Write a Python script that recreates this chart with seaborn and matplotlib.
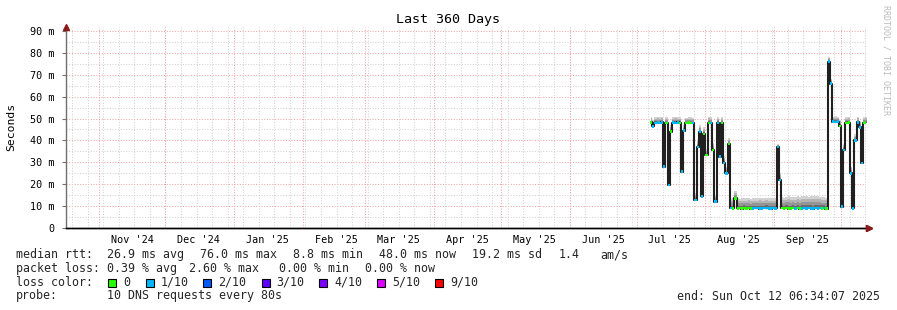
import numpy as np
import pandas as pd
import matplotlib
matplotlib.use("Agg")
import matplotlib.pyplot as plt
import matplotlib.dates as mdates
from matplotlib.patches import Rectangle
import seaborn as sns

# ---------------- data ----------------
title = "Last 360 Days"
period_start = "2024-10-17 06:34:07"
period_end = "2025-10-12 06:34:07"
data_start = "2025-07-07"          # first daily sample

median_ms = [
    48.2, 46.5, 48.0, 48.1, 48.0, 48.2, 28.0, 48.0, 19.6, 44.0,
    48.1, 48.0, 48.2, 48.0, 25.7, 44.4, 48.0, 48.1, 48.0, 48.0,
    12.8, 37.0, 44.0, 14.5, 43.0, 33.3, 48.0, 48.0, 35.6, 12.0,
    48.0, 32.6, 48.0, 29.7, 25.0, 38.4,
    9.2, 9.0, 13.5, 9.0, 9.1, 8.9, 9.2, 9.0, 9.1, 8.9,
    9.0, 9.2, 9.1, 8.9, 9.0, 9.1, 9.2, 9.0, 8.8, 9.1, 9.0,
    37.0, 22.0,
    9.1, 9.0, 9.2, 8.9, 9.0, 9.1, 9.0, 9.2, 8.9, 9.0,
    9.1, 9.0, 9.2, 9.0, 8.9, 9.1, 9.0, 9.2, 9.0, 9.1, 8.9,
    76.0, 66.0, 48.6, 48.5, 48.6, 46.6, 9.7, 35.6, 48.0, 48.1,
    25.0, 9.0, 40.0, 48.2, 46.0, 29.7, 48.0, 48.1,
]
loss_count = [
    0, 1, 1, 1, 1, 1, 1, 0, 1, 0,
    1, 1, 1, 0, 1, 1, 0, 0, 0, 1,
    1, 1, 1, 1, 0, 0, 0, 1, 0, 1,
    1, 1, 0, 1, 1, 0,
    1, 0, 0, 0, 0, 0, 0, 0, 0, 0,
    1, 1, 1, 1, 1, 1, 1, 1, 1, 1, 1,
    1, 1,
    0, 0, 0, 0, 0, 0, 1, 0, 0, 1,
    1, 1, 1, 1, 1, 1, 1, 1, 0, 1, 0,
    1, 1, 1, 1, 1, 0, 1, 1, 0, 0,
    1, 1, 1, 1, 1, 1, 0, 0,
]
smoke_top_ms = [
    50.8, 49.5, 50.6, 50.8, 50.5, 50.7, 31.0, 50.5, 22.0, 47.0,
    50.6, 50.8, 50.5, 50.6, 28.5, 47.0, 50.4, 50.6, 50.5, 50.3,
    16.0, 40.0, 47.0, 18.0, 46.0, 36.0, 50.8, 50.5, 39.0, 15.0,
    50.6, 35.5, 50.5, 33.0, 28.0, 41.0,
    13.2, 13.6, 17.0, 13.5, 13.4, 13.7, 13.6, 13.5, 13.8, 13.4,
    13.6, 13.5, 13.7, 13.9, 13.6, 13.5, 13.8, 13.6, 13.7, 13.5, 13.6,
    38.5, 25.0,
    14.0, 13.9, 14.2, 14.4, 14.0, 14.3, 14.1, 14.5, 14.2, 14.4,
    14.6, 14.5, 14.3, 14.6, 14.4, 14.7, 14.5, 14.3, 14.2, 14.0, 13.8,
    78.0, 68.0, 50.8, 51.0, 50.7, 49.5, 13.0, 38.5, 50.6, 50.8,
    28.0, 12.0, 43.0, 50.8, 49.0, 32.5, 50.5, 50.7,
]

loss_levels = [0, 1, 2, 3, 4, 5, 9]
loss_labels = ["0", "1/10", "2/10", "3/10", "4/10", "5/10", "9/10"]
loss_colors = ["#26ff00", "#00b8ff", "#0059ff", "#5e00ff", "#7e00ff", "#dd00ff", "#ff0000"]
smoke_colors = ["#6e6e6e", "#959595", "#b4b4b4", "#d2d2d2"]

y_ticks = [0, 10, 20, 30, 40, 50, 60, 70, 80, 90]

stats_rtt = ["26.9 ms avg", "76.0 ms max", "8.8 ms min", "48.0 ms now", "19.2 ms sd", "1.4", "am/s"]
stats_loss = ["0.39 % avg", "2.60 % max", "0.00 % min", "0.00 % now"]
probe_text = "10 DNS requests every 80s"
end_text = "end: Sun Oct 12 06:34:07 2025"

# ---------------- figure ----------------
sns.set_theme(style="white")
plt.rcParams["font.family"] = ["DejaVu Sans Mono"]

W, H = 897, 310
fig = plt.figure(figsize=(W / 100, H / 100), dpi=100)
fig.patch.set_facecolor("white")
ax = fig.add_axes([66 / W, (H - 228) / H, 800 / W, (228 - 26.6) / H])
ax.set_facecolor("white")

t0 = pd.Timestamp(period_start)
t1 = pd.Timestamp(period_end)
ax.set_xlim(t0, t1)
ax.set_ylim(0, 92)

# grid
red = "#f2a4a4"
grey = "#d2d2d2"
dots = (0, (1.0, 1.6))
for v in np.arange(5, 91, 10):
    ax.axhline(v, color=grey, lw=0.75, ls=dots, zorder=0)
for v in y_ticks[1:]:
    ax.axhline(v, color=red, lw=0.75, ls=dots, zorder=0)
for v in pd.date_range(t0.normalize(), t1, freq="W-SUN"):
    if t0 < v < t1:
        ax.axvline(v, color=grey, lw=0.75, ls=dots, zorder=0)
for v in pd.date_range(t0.normalize(), t1, freq="MS"):
    if t0 < v < t1:
        ax.axvline(v, color=red, lw=0.75, ls=dots, zorder=0)

# data
days = pd.date_range(data_start, periods=len(median_ms), freq="D") + pd.Timedelta(hours=12)
med = np.array(median_ms)
top = np.array(smoke_top_ms)
df = pd.DataFrame({"time": days, "median": med, "loss": loss_count})

for k, c in enumerate(smoke_colors):
    lo = med + (top - med) * k / len(smoke_colors)
    hi = med + (top - med) * (k + 1) / len(smoke_colors)
    ax.fill_between(days, lo, hi, step="mid", color=c, lw=0, zorder=2)

sns.lineplot(data=df, x="time", y="median", drawstyle="steps-mid", color="#202020",
             lw=1.5, ax=ax, zorder=3, legend=False)

cmap = dict(zip(loss_levels, loss_colors))
band = 1.2
ax.bar(days, [band] * len(med), bottom=med - band / 2, width=1.0,
       color=[cmap[l] for l in loss_count], lw=0, zorder=4)

# axes styling
for s in ["top", "right"]:
    ax.spines[s].set_visible(False)
ax.spines["left"].set_color("#707070")
ax.spines["left"].set_linewidth(1.0)
ax.spines["bottom"].set_color("#000000")
ax.spines["bottom"].set_linewidth(1.0)
ax.spines["left"].set_bounds(0, 92.5)

ax.set_yticks(y_ticks)
ax.set_yticklabels(["0" if v == 0 else f"{v} m" for v in y_ticks])
ax.xaxis.set_major_locator(mdates.MonthLocator(bymonthday=16))
ax.xaxis.set_major_formatter(mdates.DateFormatter("%b '%y"))
ax.tick_params(axis="y", length=3, width=0.8, color="#707070", pad=5, labelsize=7.3,
               labelcolor="black", left=True)
ax.tick_params(axis="x", length=0, pad=5, labelsize=7.3, labelcolor="black", bottom=True)
ax.set_xlabel("")
ax.set_ylabel("")

# arrows
ax.plot([0], [1.0], marker="^", ms=4.5, color="#8b1a1a", transform=ax.transAxes,
        clip_on=False, zorder=6)
ax.plot([1.004, 1.004], [0, 0], marker=">", ms=4.5, color="#8b1a1a", transform=ax.transAxes,
        clip_on=False, zorder=6)
ax.plot([0, 1.004], [0, 0], color="black", lw=1.0, transform=ax.transAxes, clip_on=False, zorder=5)

# texts
def px(x, y, s, **kw):
    fig.text(x / W, 1 - y / H, s, va="center", **kw)

px(448, 19, title, ha="center", fontsize=9.6, color="black")
px(11, 127, "Seconds", ha="center", rotation=90, fontsize=8.2, color="black")
px(886, 60, "RRDTOOL / TOBI OETIKER", ha="center", rotation=270, fontsize=6.0, color="#bcbcbc")

fs = 8.4
px(16, 254.5, "median rtt:", fontsize=fs)
for x, s in zip([107.3, 200.3, 293.3, 379.0, 472.3, 558.3, 600.0], stats_rtt):
    px(x, 254.5, s, fontsize=fs)
px(16, 268.3, "packet loss:", fontsize=fs)
for x, s in zip([107.3, 189.3, 279.0, 365.3], stats_loss):
    px(x, 268.3, s, fontsize=fs)
px(16, 282.3, "loss color:", fontsize=fs)
box_x = [108.3, 145.7, 203.3, 261.7, 319.3, 377.3, 435.0]
for bx, lab, col in zip(box_x, loss_labels, loss_colors):
    fig.patches.append(Rectangle((bx / W, 1 - 286.5 / H), 8 / W, 8 / H, transform=fig.transFigure,
                                 facecolor=col, edgecolor="black", lw=0.8))
    px(bx + 15, 282.3, lab, fontsize=fs)
px(16, 296, "probe:", fontsize=fs)
px(107.3, 296, probe_text, fontsize=fs)
px(880, 296, end_text, ha="right", fontsize=fs)

fig.savefig("out.png", dpi=100, facecolor="white")
